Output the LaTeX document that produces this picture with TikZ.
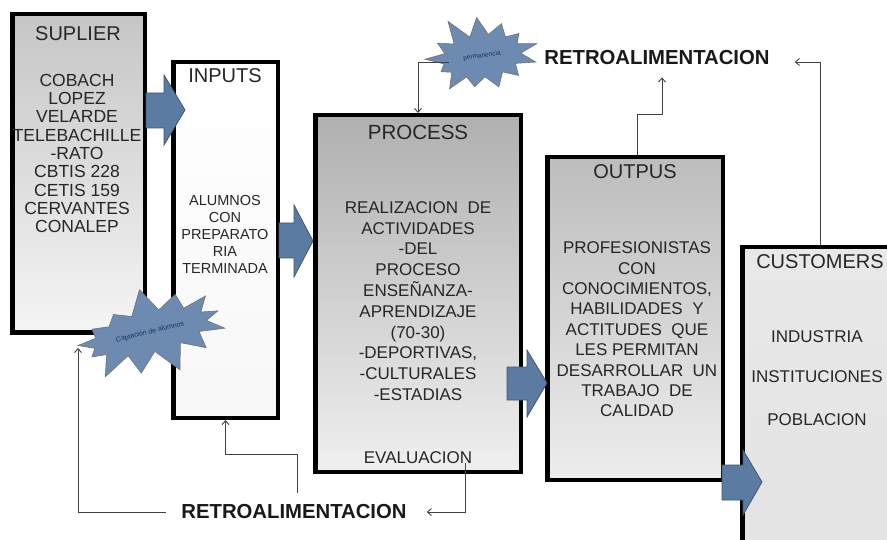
\documentclass[tikz,border=0pt]{standalone}
\usepackage{fontspec}
\setmainfont{Liberation Sans}
\usetikzlibrary{shapes.symbols,arrows.meta,calc}
\definecolor{barrow}{HTML}{5B7BA3}
\definecolor{barrowd}{HTML}{3E5877}
\definecolor{burstc}{HTML}{6D8BB0}
\definecolor{txt}{HTML}{262626}
\definecolor{bursttxt}{HTML}{1E2E5E}
\begin{document}
\begin{tikzpicture}[x=1pt,y=-1pt,
 box/.style={draw=black,line width=4.5pt,inner sep=0pt},
 ttl/.style={text=txt,font=\fontsize{20}{22}\selectfont,inner sep=0pt},
 bodytxt/.style={text=txt,align=center,inner sep=0pt},
 blk/.style={fill=barrow,draw=barrowd,line width=0.8pt,line join=miter},
 fb/.style={draw=black!75,line width=0.9pt,-{Straight Barb[length=4pt,width=7pt]}},
 retro/.style={font=\bfseries\fontsize{20.3}{22}\selectfont,inner sep=0pt,text=black!90},
 burststyle/.style={starburst,fill=burstc,draw=black!55,line width=0.6pt,inner sep=0pt},
]
\useasboundingbox (0,0) rectangle (887,540);
\clip (0,0) rectangle (887,540);
\fill[white] (0,0) rectangle (887,540);

% boxes
\node[box,minimum width=132.5pt,minimum height=318.5pt,top color=gray!45,bottom color=gray!8] (sup) at (78.5,173.5) {};
\node[box,minimum width=104.5pt,minimum height=355.5pt,top color=white,middle color=gray!30,bottom color=gray!6] (inp) at (225.5,240) {};
\node[box,minimum width=205.5pt,minimum height=356.5pt,top color=gray!62,bottom color=gray!12] (proc) at (418,293.5) {};
\node[box,minimum width=175.5pt,minimum height=322.5pt,top color=gray!52,bottom color=gray!14] (outp) at (635,318.5) {};
\node[box,minimum width=175.5pt,minimum height=330.5pt,top color=gray!18,bottom color=gray!22] (cust) at (830,412.5) {};

% block arrows
\filldraw[blk] (146,93) -- (164,93) -- (164,75) -- (185,110) -- (164,145) -- (164,128) -- (146,128) -- cycle;
\filldraw[blk] (279,223) -- (294,223) -- (294,205) -- (313,241) -- (294,277) -- (294,258) -- (279,258) -- cycle;
\filldraw[blk] (507,367) -- (527,367) -- (527,350) -- (547,383) -- (527,417) -- (527,400) -- (507,400) -- cycle;
\filldraw[blk] (722,465) -- (743,465) -- (743,450) -- (762,482) -- (743,515) -- (743,500) -- (722,500) -- cycle;

% titles
\node[ttl] (supT) at (78,34) {SUPLIER};
\node[ttl] (inpT) at (225,76) {INPUTS};
\node[ttl,font=\fontsize{20.5}{22}\selectfont] (procT) at (418,132) {PROCESS};
\node[ttl] (outT) at (635,172) {OUTPUS};
\node[ttl] (custT) at (820,262) {CUSTOMERS};

% bodies
\node[bodytxt,font=\fontsize{17.5}{18.3}\selectfont] (supB) at (77,153.5)
 {COBACH\\LOPEZ\\VELARDE\\TELEBACHILLE\\-RATO\\CBTIS 228\\CETIS 159\\CERVANTES\\CONALEP};
\node[bodytxt,font=\fontsize{14.5}{17}\selectfont] (inpB) at (225,234)
 {ALUMNOS\\CON\\PREPARATO\\RIA\\TERMINADA};
\node[bodytxt,font=\fontsize{17}{20.8}\selectfont] (procB) at (418,301)
 {REALIZACION\ \ DE\\ACTIVIDADES\\-DEL\\PROCESO\\ENSEÑANZA-\\APRENDIZAJE\\(70-30)\\-DEPORTIVAS,\\-CULTURALES\\-ESTADIAS};
\node[bodytxt,font=\fontsize{17}{20}\selectfont] (procE) at (418,458) {EVALUACION};
\node[bodytxt,font=\fontsize{17}{20.4}\selectfont] (outB) at (637,329.5)
 {PROFESIONISTAS\\CON\\CONOCIMIENTOS,\\HABILIDADES\ \ Y\\ACTITUDES\ \ QUE\\LES PERMITAN\\DESARROLLAR\ \ UN\\TRABAJO\ \ DE\\CALIDAD};
\node[bodytxt,font=\fontsize{17}{20}\selectfont] (c1) at (817,337) {INDUSTRIA};
\node[bodytxt,font=\fontsize{17}{20}\selectfont] (c2) at (817,377) {INSTITUCIONES};
\node[bodytxt,font=\fontsize{17}{20}\selectfont] (c3) at (817,420) {POBLACION};

% starbursts
\node[burststyle,starburst points=13,starburst point height=26pt,random starburst=7,
      minimum width=168pt,minimum height=92pt,rotate=14] (capt) at (150,332)
 {\textcolor{bursttxt}{\fontsize{7}{8}\selectfont Captación de alumnos}};
\node[burststyle,starburst points=13,starburst point height=24pt,random starburst=11,
      minimum width=126pt,minimum height=90pt,rotate=8] (perm) at (482,56)
 {\textcolor{bursttxt}{\fontsize{6.5}{7}\selectfont permanencia}};

% retro labels
\node[retro] (retroB) at (294,512) {RETROALIMENTACION};
\node[retro] (retroT) at (657,58) {RETROALIMENTACION};

% feedback connectors
\coordinate (captIn) at (78,348);
\coordinate (rb1) at (297,493);
\coordinate (ev1) at (465,463);
\draw[fb] ([xshift=-15pt]retroB.west) -| (captIn);
\draw[fb] (rb1) |- ([yshift=-34pt]inp.south) -- (inp.south);
\draw[fb] (ev1) |- ([xshift=20pt]retroB.east);
\draw[fb] ([xshift=12pt]perm.west) -| ([xshift=105pt]proc.north west);
\draw[fb] ([xshift=2pt]outp.north) |- ([xshift=5pt,yshift=-49pt]retroT.south) -- ([xshift=5pt,yshift=-12pt]retroT.south);
\draw[fb] ([xshift=80pt]cust.north west) |- ([xshift=25pt,yshift=-4pt]retroT.east);
\end{tikzpicture}
\end{document}
